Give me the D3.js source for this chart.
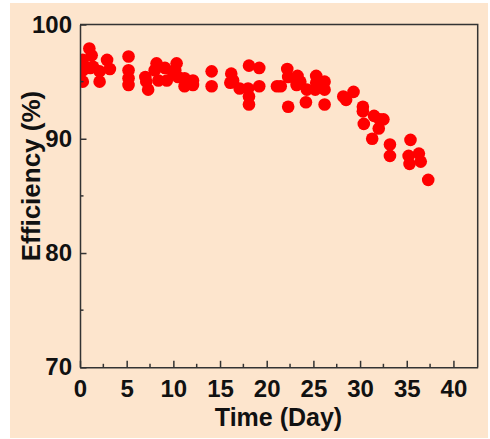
<!DOCTYPE html>
<html>
<head>
<meta charset="utf-8">
<script src="https://cdn.jsdelivr.net/npm/d3@7"></script>
<style>
  body { margin: 0; background: #fff; }
  text { font-family: "Liberation Sans", Arial, sans-serif; font-weight: bold; fill: #111; }
</style>
</head>
<body>
<div class="chart"></div>
<script>
// DATA ------------------------------------
const days = [0.3, 0.3, 0.3, 1.0, 1.25, 1.1, 1.4, 2.1, 2.1, 2.9, 3.2,
  5.2, 5.2, 5.2, 5.2, 7.0, 7.1, 7.3,
  8.2, 8.0, 8.4, 9.1, 9.3, 10.0, 10.35, 10.2, 10.5, 11.2, 11.2, 12.1, 12.1,
  14.1, 14.1, 16.2, 16.4, 16.1, 17.1,
  18.1, 19.2, 18.0, 18.1, 18.1, 19.2,
  21.1, 21.5, 22.2, 22.3, 23.3, 23.6, 23.2, 22.3,
  24.3, 24.2, 25.3, 25.3, 25.2, 26.2, 26.2, 26.2,
  28.2, 28.5, 29.3, 30.3, 30.3, 30.4,
  31.5, 32.1, 32.5, 32.0, 31.3, 33.2, 33.2,
  35.4, 35.2, 35.3, 36.3, 36.5, 37.3];
const efficiency = [96.9, 96.0, 95.0, 97.9, 97.3, 96.2, 96.3, 95.9, 95.0, 96.9, 96.1,
  97.2, 96.0, 95.3, 94.7, 95.4, 95.0, 94.3,
  96.6, 96.0, 95.1, 96.2, 95.1, 95.7, 96.6, 96.0, 95.4, 95.3, 94.6, 95.1, 94.7,
  95.9, 94.6, 95.7, 95.1, 94.9, 94.4,
  96.4, 96.2, 94.4, 93.7, 93.0, 94.6,
  94.6, 94.6, 96.1, 95.4, 95.5, 95.0, 94.7, 92.8,
  94.3, 93.2, 95.5, 94.9, 94.3, 95.0, 94.3, 93.0,
  93.7, 93.4, 94.1, 92.8, 92.4, 91.3,
  92.0, 91.7, 91.7, 90.9, 90.0, 89.5, 88.5,
  89.9, 88.5, 87.8, 88.7, 88.0, 86.4];
const xTicks = [0, 5, 10, 15, 20, 25, 30, 35, 40];
const xMinorTicks = [2.5, 7.5, 12.5, 17.5, 22.5, 27.5, 32.5, 37.5];
const yTicks = [70, 80, 90, 100];
const yMinorTicks = [75, 85, 95];

// CHART INIT ------------------------------
const W = 490, H = 439;
var margin = {top: 24.5, right: 12.3, bottom: 71.7, left: 80};
var width = W - margin.left - margin.right,
    height = H - margin.top - margin.bottom;

const root = d3.select(".chart").append("svg")
    .attr("width", W)
    .attr("height", H);

root.append("rect")
    .attr("x", 10).attr("y", 3)
    .attr("width", 478).attr("height", 435)
    .attr("fill", "#FDE5CD");

const svg = root.append("g")
    .attr("transform", "translate(" + margin.left + "," + margin.top + ")");

const xScale = d3.scaleLinear().domain([0, 42.6]).range([0, width]);
const yScale = d3.scaleLinear().domain([70, 100]).range([height, 0]);

svg.append("clipPath").attr("id", "plot-clip")
  .append("rect").attr("width", width).attr("height", height);

// points
const points = days.map((d, i) => ({day: d, eff: efficiency[i]}));
svg.append("g")
    .attr("clip-path", "url(#plot-clip)")
  .selectAll("circle")
  .data(points)
  .enter()
  .append("circle")
    .attr("cx", d => xScale(d.day))
    .attr("cy", d => yScale(d.eff))
    .attr("r", 6.3)
    .attr("fill", "#FF0000");

// frame (top and right)
svg.append("path")
    .attr("d", "M0,0H" + width + "V" + height)
    .attr("fill", "none")
    .attr("stroke", "#333")
    .attr("stroke-width", 1.5);

// axes with inward ticks
const xAxis = svg.append("g")
    .attr("class", "axis x-axis")
    .attr("transform", "translate(0," + height + ")")
    .call(d3.axisBottom(xScale).tickValues(xTicks).tickSizeInner(-6.5).tickSizeOuter(0).tickPadding(13));
xAxis.append("g").selectAll("line")
  .data(xMinorTicks).enter().append("line")
    .attr("x1", d => xScale(d)).attr("x2", d => xScale(d))
    .attr("y1", 0).attr("y2", -3.5)
    .attr("stroke", "#333").attr("stroke-width", 1.5);

const yAxis = svg.append("g")
    .attr("class", "axis y-axis")
    .call(d3.axisLeft(yScale).tickValues(yTicks).tickSizeInner(-6.5).tickSizeOuter(0).tickPadding(8));
yAxis.append("g").selectAll("line")
  .data(yMinorTicks).enter().append("line")
    .attr("y1", d => yScale(d)).attr("y2", d => yScale(d))
    .attr("x1", 0).attr("x2", 3.5)
    .attr("stroke", "#333").attr("stroke-width", 1.5);

svg.selectAll(".axis path.domain").attr("stroke", "#333").attr("stroke-width", 1.5);
svg.selectAll(".axis .tick line").attr("stroke", "#333").attr("stroke-width", 1.5);
svg.selectAll(".axis text")
    .attr("font-size", 24)
    .attr("font-family", "Liberation Sans, Arial, sans-serif")
    .attr("font-weight", "bold")
    .attr("fill", "#111");
xAxis.selectAll(".tick text").attr("dy", "0.71em");

// axis titles
root.append("text")
    .attr("x", 278.5).attr("y", 425.5)
    .attr("text-anchor", "middle")
    .attr("font-size", 25)
    .text("Time (Day)");

root.append("text")
    .attr("transform", "translate(40,176) rotate(-90)")
    .attr("text-anchor", "middle")
    .attr("font-size", 26)
    .text("Efficiency (%)");
</script>
</body>
</html>
